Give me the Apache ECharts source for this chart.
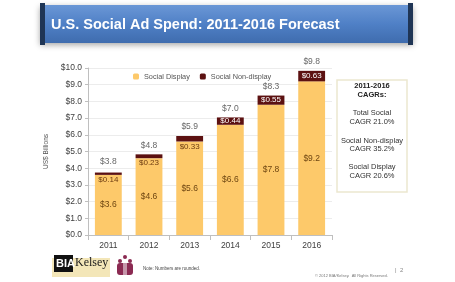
<!DOCTYPE html>
<html>
<head>
<meta charset="utf-8">
<script src="https://cdn.jsdelivr.net/npm/echarts@6/dist/echarts.min.js"></script>
<style>
  html, body { margin: 0; padding: 0; background: #fff; }
  #chart { width: 455px; height: 282px; }
</style>
</head>
<body>
<div id="chart"></div>
<script>
// data
var years = ['2011', '2012', '2013', '2014', '2015', '2016'];
var socialDisplay = [3.6, 4.6, 5.6, 6.6, 7.8, 9.2];
var socialNonDisplay = [0.14, 0.23, 0.33, 0.44, 0.55, 0.63];
var totals = [3.8, 4.8, 5.9, 7.0, 8.3, 9.8];
var cagrLines = ['Total Social', 'CAGR 21.0%', 'Social Non-display', 'CAGR 35.2%', 'Social Display', 'CAGR 20.6%'];

var FONT = 'Liberation Sans, Arial, sans-serif';
var YELLOW = '#fdc96a';
var BROWN = '#5c1111';

var chart = echarts.init(document.getElementById('chart'));

// thin non-display segments get their label under the strip, in dark text
var nonDisplayData = socialNonDisplay.map(function (v) {
  if (v < 0.4) {
    return { value: v, label: { position: 'bottom', distance: 1, color: '#6b3a10' } };
  }
  return v;
});

var cagrText = [];
cagrText.push({ type: 'text', x: 372, y: 82, style: { text: '2011-2016', font: 'bold 7.5px ' + FONT, fill: '#222', align: 'center' } });
cagrText.push({ type: 'text', x: 372, y: 91, style: { text: 'CAGRs:', font: 'bold 7.5px ' + FONT, fill: '#222', align: 'center' } });
var cagrY = [109, 118, 137, 145, 163, 172];
cagrLines.forEach(function (t, i) {
  cagrText.push({
    type: 'text', x: 372, y: cagrY[i],
    style: { text: t, font: '7.5px ' + FONT, fill: '#333', align: 'center' }
  });
});

var option = {
  animation: false,
  backgroundColor: '#fff',
  textStyle: { fontFamily: FONT },
  grid: { left: 88, right: 123, top: 68, bottom: 47 },
  legend: {
    top: 73, left: 133, padding: 0,
    itemWidth: 6, itemHeight: 6, itemGap: 10,
    textStyle: { fontSize: 7.3, color: '#555', fontFamily: FONT },
    data: ['Social Display', 'Social Non-display']
  },
  xAxis: {
    type: 'category',
    data: years,
    axisLine: { lineStyle: { color: '#bfbfbf' } },
    axisTick: { show: true, lineStyle: { color: '#bfbfbf' } },
    axisLabel: { fontSize: 8.5, color: '#404040', margin: 6 }
  },
  yAxis: {
    type: 'value',
    min: 0, max: 10, interval: 1,
    name: 'US$ Billions',
    nameLocation: 'middle',
    nameRotate: 90,
    nameGap: 33,
    nameTextStyle: { fontSize: 6.5, color: '#555' },
    axisLine: { show: true, lineStyle: { color: '#bfbfbf' } },
    axisTick: { show: true, length: 3, lineStyle: { color: '#bfbfbf' } },
    axisLabel: {
      fontSize: 8.5, color: '#404040', margin: 6,
      formatter: function (v) { return '$' + v.toFixed(1); }
    },
    splitLine: { lineStyle: { color: '#ececec' } }
  },
  series: [
    {
      name: 'Social Display',
      type: 'bar',
      stack: 'spend',
      barWidth: '66%',
      itemStyle: { color: YELLOW },
      label: {
        show: true, position: 'inside', fontSize: 8.5, color: '#6e4612',
        formatter: function (p) { return '$' + p.value.toFixed(1); }
      },
      data: socialDisplay
    },
    {
      name: 'Social Non-display',
      type: 'bar',
      stack: 'spend',
      itemStyle: { color: BROWN },
      label: {
        show: true, position: 'inside', fontSize: 8, color: '#fff',
        formatter: function (p) { return '$' + p.value.toFixed(2); }
      },
      data: nonDisplayData
    },
    {
      name: 'Total',
      type: 'scatter',
      symbolSize: 0,
      silent: true,
      label: {
        show: true, position: 'top', distance: 5, fontSize: 8.5, color: '#404040',
        formatter: function (p) { return '$' + p.value.toFixed(1); }
      },
      data: totals
    }
  ],
  graphic: [
    // title banner
    {
      type: 'rect', shape: { x: 40, y: 5, width: 373, height: 38 },
      style: {
        fill: new echarts.graphic.LinearGradient(0, 0, 0, 1, [
          { offset: 0, color: '#6b97d6' },
          { offset: 0.5, color: '#4f80c6' },
          { offset: 1, color: '#3f6cae' }
        ]),
        shadowBlur: 6, shadowColor: 'rgba(0,0,0,0.35)', shadowOffsetY: 2
      }
    },
    { type: 'rect', shape: { x: 40, y: 3, width: 5, height: 42 }, style: { fill: '#1f3555' } },
    { type: 'rect', shape: { x: 408, y: 3, width: 5, height: 42 }, style: { fill: '#1f3555' } },
    {
      type: 'text', left: 51, top: 17,
      style: { text: 'U.S. Social Ad Spend: 2011-2016 Forecast', font: 'bold 14.5px ' + FONT, fill: '#fff' }
    },
    // CAGR box
    {
      type: 'rect', shape: { x: 337, y: 80, width: 70, height: 112 },
      style: { fill: '#fff', stroke: '#ece7cf', lineWidth: 1.5 }
    }
  ].concat(cagrText).concat([
    // footer: logo
    { type: 'rect', shape: { x: 52, y: 258, width: 58, height: 19 }, style: { fill: '#f3e6b8' } },
    { type: 'rect', shape: { x: 54, y: 255, width: 19, height: 17 }, style: { fill: '#111' } },
    { type: 'text', x: 56, y: 258, style: { text: 'BIA', font: 'bold 11px ' + FONT, fill: '#fff' } },
    { type: 'text', x: 75, y: 257, style: { text: 'Kelsey', font: '12px Liberation Serif, serif', fill: '#1a1a1a' } },
    // footer: people icon
    { type: 'circle', shape: { cx: 125, cy: 257, r: 2 }, style: { fill: '#8b2a52' } },
    { type: 'circle', shape: { cx: 120, cy: 261, r: 2 }, style: { fill: '#8b2a52' } },
    { type: 'circle', shape: { cx: 130, cy: 261, r: 2 }, style: { fill: '#8b2a52' } },
    { type: 'rect', shape: { x: 117, y: 263, width: 16, height: 12, r: 3 }, style: { fill: '#8b2a52' } },
    { type: 'rect', shape: { x: 123, y: 260, width: 4, height: 15 }, style: { fill: '#fff', opacity: 0.5 } },
    { type: 'text', x: 143, y: 266, style: { text: 'Note: Numbers are rounded.', font: '4.5px ' + FONT, fill: '#444' } },
    { type: 'text', x: 395, y: 267, style: { text: '|  2', font: '6px ' + FONT, fill: '#888' } },
    { type: 'text', x: 315, y: 274, style: { text: '\u00a9 2012 BIA/Kelsey.  All Rights Reserved.', font: '4px ' + FONT, fill: '#777' } }
  ])
};

chart.setOption(option);
</script>
</body>
</html>
